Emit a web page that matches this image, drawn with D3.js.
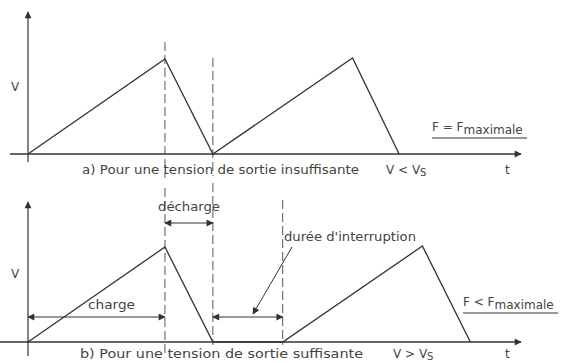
<!DOCTYPE html>
<html>
<head>
<meta charset="utf-8">
<script src="https://cdn.jsdelivr.net/npm/d3@7"></script>
<style>
  body { margin: 0; background: #fff; }
  text { font-family: "DejaVu Sans", sans-serif; fill: #444; }
</style>
</head>
<body>
<div id="chart"></div>
<script>
// sawtooth points (t, V) for each panel
const seriesA = [[0, 0], [10, 1], [13.5, 0], [23.7, 1.01], [27.1, 0]];
const seriesB = [[0, 0], [10, 1], [13.5, 0], [18.6, 0], [28.8, 1.01], [32.3, 0]];
// vertical dashed markers (t)
const marksA = [10, 13.5];
const marksB = [10, 13.5, 18.6];
const captions = ["a) Pour une tension de sortie insuffisante", "b) Pour une tension de sortie suffisante"];

const W = 562, H = 363;
const svg = d3.select("#chart").append("svg")
  .attr("width", W).attr("height", H);

const x = d3.scaleLinear().domain([0, 36]).range([28, 521]);
const yA = d3.scaleLinear().domain([0, 1]).range([154, 59]);
const yB = d3.scaleLinear().domain([0, 1]).range([342, 247]);

const ink = "#333";

// arrow markers
const defs = svg.append("defs");
defs.append("marker").attr("id", "arr")
  .attr("viewBox", "0 0 10 10").attr("refX", 9).attr("refY", 5)
  .attr("markerWidth", 10).attr("markerHeight", 7).attr("markerUnits", "userSpaceOnUse")
  .attr("orient", "auto-start-reverse")
  .append("path").attr("d", "M0,0 L10,5 L0,10 z").attr("fill", ink);

const line = (y) => d3.line().x(d => x(d[0])).y(d => y(d[1]));

function axes(y, yTop, yBottom, xLeft) {
  svg.append("line")
    .attr("x1", x(0)).attr("x2", x(0))
    .attr("y1", yBottom).attr("y2", yTop)
    .attr("stroke", ink).attr("stroke-width", 1.2)
    .attr("marker-end", "url(#arr)");
  svg.append("line")
    .attr("x1", xLeft).attr("x2", x(36))
    .attr("y1", y(0)).attr("y2", y(0))
    .attr("stroke", ink).attr("stroke-width", 1.4)
    .attr("marker-end", "url(#arr)");
}

function dashed(t, y1, y2) {
  svg.append("line")
    .attr("x1", x(t)).attr("x2", x(t))
    .attr("y1", y1).attr("y2", y2)
    .attr("stroke", "#555").attr("stroke-width", 1)
    .attr("stroke-dasharray", "9,4");
}

function dblArrow(t1, t2, yy) {
  svg.append("line")
    .attr("x1", x(t1)).attr("x2", x(t2))
    .attr("y1", yy).attr("y2", yy)
    .attr("stroke", ink).attr("stroke-width", 1.2)
    .attr("marker-start", "url(#arr)")
    .attr("marker-end", "url(#arr)");
}

function label(str, xx, yy, size, opts = {}) {
  const t = svg.append("text")
    .attr("x", xx).attr("y", yy)
    .style("font-size", size + "px")
    .attr("text-anchor", opts.anchor || "start")
    .text(str);
  if (opts.len) t.attr("textLength", opts.len).attr("lengthAdjust", "spacingAndGlyphs");
  return t;
}

function vsub(sym, xx, yy) {
  const t = svg.append("text").attr("x", xx).attr("y", yy).style("font-size", "12px");
  t.append("tspan").text("V " + sym + " V");
  t.append("tspan").attr("dy", 2).style("font-size", "10px").text("S");
}

function fmax(sym, xx, yy, len) {
  const t = svg.append("text").attr("x", xx).attr("y", yy).style("font-size", "12px");
  t.append("tspan").text("F " + sym + " F");
  t.append("tspan").attr("dy", 3).style("font-size", "12px").text("maximale");
  svg.append("line")
    .attr("x1", xx).attr("x2", xx + len)
    .attr("y1", yy + 7).attr("y2", yy + 7)
    .attr("stroke", ink).attr("stroke-width", 1.2);
}

// ---- panel a
dashed(marksA[0], 42, 178);
dashed(marksA[1], 58, 176);
axes(yA, 12, 162, 10);
svg.append("path").datum(seriesA)
  .attr("d", line(yA)).attr("fill", "none")
  .attr("stroke", ink).attr("stroke-width", 1.3);

label("V", 11, 91, 12);
label(captions[0], 82, 174, 12, {len: 277});
vsub("<", 386, 174);
label("t", 505, 174, 12);
fmax("=", 432, 131, 95);

// ---- panel b
dashed(marksB[0], 188, 356);
dashed(marksB[1], 183, 345);
dashed(marksB[2], 200, 345);
axes(yB, 202, 356, 0);
svg.append("path").datum(seriesB)
  .attr("d", line(yB)).attr("fill", "none")
  .attr("stroke", ink).attr("stroke-width", 1.3);

dblArrow(marksB[0], marksB[1], 223);
dblArrow(0, marksB[0], 317);
dblArrow(marksB[1], marksB[2], 317);

label("décharge", 189, 211, 12, {anchor: "middle", len: 62});
label("charge", 88, 309, 12, {len: 47});
label("durée d'interruption", 284, 241, 12, {len: 132});

// leader to the interruption arrow
svg.append("line")
  .attr("x1", 292).attr("y1", 247)
  .attr("x2", 253).attr("y2", 314)
  .attr("stroke", ink).attr("stroke-width", 1)
  .attr("marker-end", "url(#arr)");

label("V", 11, 278, 12);
label(captions[1], 80, 358, 12, {len: 283});
vsub(">", 393, 358);
label("t", 505, 358, 12);
fmax("<", 463, 306, 95);
</script>
</body>
</html>
